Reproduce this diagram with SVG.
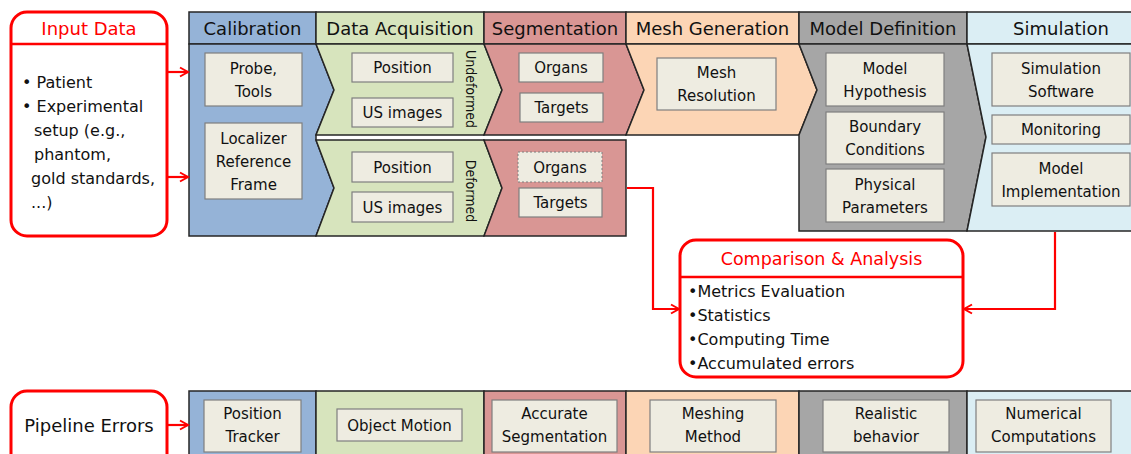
<svg xmlns="http://www.w3.org/2000/svg" width="1131" height="454" viewBox="0 0 1131 454">
<defs>
<marker id="arr" markerWidth="12" markerHeight="12" refX="10" refY="6" orient="auto" markerUnits="userSpaceOnUse"><path d="M2,1.5 L10,6 L2,10.5" fill="none" stroke="#ff0000" stroke-width="2"/></marker>
<style>
text{font-family:"DejaVu Sans",sans-serif;fill:#111}
.h{font-size:18px;text-anchor:middle}
.b{font-size:15px;text-anchor:middle}
.v{font-family:"DejaVu Sans Condensed","DejaVu Sans",sans-serif;font-size:14px;text-anchor:middle}
.st{stroke:#262626;stroke-width:1.5}
.blue{fill:#95b3d7}.green{fill:#d7e4bd}.red{fill:#d99694}.peach{fill:#fcd5b5}.gray{fill:#a6a6a6}.lblue{fill:#dbeef4}
.box{fill:#eeece1;stroke:#7f7f7f;stroke-width:1.2}
.dash{fill:#eeece1;stroke:#7f7f7f;stroke-width:1;stroke-dasharray:2 2}
.rb{fill:#fff;stroke:#ff0000;stroke-width:3}
.rl{stroke:#ff0000;stroke-width:2.5}
.rt{fill:#ff0000;font-size:18px;text-anchor:middle}
.l{font-size:16px}
.con{fill:none;stroke:#ff0000;stroke-width:2.2}
</style>
</defs>
<rect width="1131" height="454" fill="#fff"/>

<g id="input-data">
<rect class="rb" x="11" y="12" width="156" height="224" rx="16"/>
<line class="rl" x1="11" y1="44" x2="167" y2="44"/>
<text class="rt" x="89" y="35">Input Data</text>
<text class="l" x="22" y="88">• Patient</text>
<text class="l" x="22" y="112">• Experimental</text>
<text class="l" x="34" y="136">setup (e.g.,</text>
<text class="l" x="34" y="160">phantom,</text>
<text class="l" x="31" y="184">gold standards,</text>
<text class="l" x="31" y="208">...)</text>
</g>

<g id="calibration">
<rect class="blue st" x="189" y="12" width="127" height="32"/>
<text class="h" x="252.5" y="35">Calibration</text>
<polygon class="blue st" points="189,44 316,44 334,90 316,135 316,140 334,188 316,236 189,236"/>
<rect class="box" x="205" y="53" width="97" height="53"/>
<text class="b" x="253.5" y="74">Probe,</text>
<text class="b" x="253.5" y="97">Tools</text>
<rect class="box" x="205" y="123" width="97" height="76"/>
<text class="b" x="253.5" y="143.5">Localizer</text>
<text class="b" x="253.5" y="166.5">Reference</text>
<text class="b" x="253.5" y="189.5">Frame</text>
</g>

<g id="data-acquisition">
<rect class="green st" x="316" y="12" width="168" height="32"/>
<text class="h" x="400" y="35">Data Acquisition</text>
<polygon class="green st" points="316,44 484,44 502,90 484,135 316,135 334,90"/>
<polygon class="green st" points="316,140 484,140 502,188 484,236 316,236 334,188"/>
<rect class="box" x="352" y="53" width="101" height="29"/>
<text class="b" x="402.5" y="73">Position</text>
<rect class="box" x="352" y="98" width="101" height="29"/>
<text class="b" x="402.5" y="118">US images</text>
<text class="v" transform="translate(471,89) rotate(90)" y="5">Undeformed</text>
<rect class="box" x="352" y="152" width="101" height="30"/>
<text class="b" x="402.5" y="172.5">Position</text>
<rect class="box" x="352" y="192" width="101" height="30"/>
<text class="b" x="402.5" y="212.5">US images</text>
<text class="v" transform="translate(471,191) rotate(90)" y="5">Deformed</text>
</g>

<g id="segmentation">
<rect class="red st" x="484" y="12" width="142" height="32"/>
<text class="h" x="555" y="35">Segmentation</text>
<polygon class="red st" points="484,44 626,44 644,90 626,135 484,135 502,90"/>
<polygon class="red st" points="484,140 626,140 626,236 484,236 502,188"/>
<rect class="box" x="519" y="53" width="84" height="29"/>
<text class="b" x="561" y="73">Organs</text>
<rect class="box" x="520" y="93" width="83" height="29"/>
<text class="b" x="561.5" y="113">Targets</text>
<rect class="dash" x="518" y="152" width="84" height="30"/>
<text class="b" x="560" y="172.5">Organs</text>
<rect class="box" x="519" y="188" width="83" height="29"/>
<text class="b" x="560.5" y="208">Targets</text>
</g>

<g id="mesh-generation">
<rect class="peach st" x="626" y="12" width="173" height="32"/>
<text class="h" x="712.5" y="35">Mesh Generation</text>
<polygon class="peach st" points="626,44 799,44 817,90 799,135 626,135 644,90"/>
<rect class="box" x="657" y="58" width="119" height="52"/>
<text class="b" x="716.5" y="77.5">Mesh</text>
<text class="b" x="716.5" y="100.5">Resolution</text>
</g>

<g id="model-definition">
<rect class="gray st" x="799" y="12" width="168" height="32"/>
<text class="h" x="883" y="35">Model Definition</text>
<polygon class="gray st" points="799,44 967,44 986,137 967,231 799,231 799,135 817,90"/>
<rect class="box" x="826" y="53" width="118" height="53"/>
<text class="b" x="885" y="74">Model</text>
<text class="b" x="885" y="97">Hypothesis</text>
<rect class="box" x="826" y="112" width="118" height="52"/>
<text class="b" x="885" y="132">Boundary</text>
<text class="b" x="885" y="155">Conditions</text>
<rect class="box" x="826" y="169" width="118" height="53"/>
<text class="b" x="885" y="189.5">Physical</text>
<text class="b" x="885" y="212.5">Parameters</text>
</g>

<g id="simulation">
<rect class="lblue st" x="967" y="12" width="170" height="32"/>
<text class="h" x="1061" y="35">Simulation</text>
<polygon class="lblue st" points="967,44 1137,44 1137,231 967,231 986,137"/>
<rect class="box" x="992" y="53" width="138" height="53"/>
<text class="b" x="1061" y="74">Simulation</text>
<text class="b" x="1061" y="97">Software</text>
<rect class="box" x="992" y="115" width="138" height="29"/>
<text class="b" x="1061" y="135">Monitoring</text>
<rect class="box" x="992" y="153" width="138" height="53"/>
<text class="b" x="1061" y="174">Model</text>
<text class="b" x="1061" y="197">Implementation</text>
</g>

<g id="comparison-analysis">
<rect class="rb" x="680" y="240" width="283" height="137" rx="16"/>
<line class="rl" x1="680" y1="277" x2="963" y2="277"/>
<text class="rt" style="font-size:17.5px" x="821.5" y="265">Comparison &amp; Analysis</text>
<text class="l" x="688" y="297">•Metrics Evaluation</text>
<text class="l" x="688" y="321">•Statistics</text>
<text class="l" x="688" y="345">•Computing Time</text>
<text class="l" x="688" y="369">•Accumulated errors</text>
</g>

<g id="pipeline-errors">
<rect class="rb" x="11" y="391" width="156" height="90" rx="16"/>
<text x="89" y="432" style="font-size:18px;text-anchor:middle">Pipeline Errors</text>
</g>

<g id="error-row">
<rect class="blue st" x="189" y="391" width="127" height="80"/>
<rect class="green st" x="316" y="391" width="168" height="80"/>
<rect class="red st" x="484" y="391" width="142" height="80"/>
<rect class="peach st" x="626" y="391" width="173" height="80"/>
<rect class="gray st" x="799" y="391" width="168" height="80"/>
<rect class="lblue st" x="967" y="391" width="170" height="80"/>
<rect class="box" x="204" y="400" width="97" height="52"/>
<text class="b" x="252.5" y="419">Position</text>
<text class="b" x="252.5" y="442">Tracker</text>
<rect class="box" x="337" y="409" width="125" height="32"/>
<text class="b" x="399.5" y="430.5">Object Motion</text>
<rect class="box" x="492" y="400" width="125" height="52"/>
<text class="b" x="554.5" y="419">Accurate</text>
<text class="b" x="554.5" y="442">Segmentation</text>
<rect class="box" x="650" y="400" width="126" height="52"/>
<text class="b" x="713" y="419">Meshing</text>
<text class="b" x="713" y="442">Method</text>
<rect class="box" x="823" y="400" width="126" height="52"/>
<text class="b" x="886" y="419">Realistic</text>
<text class="b" x="886" y="442">behavior</text>
<rect class="box" x="976" y="400" width="135" height="52"/>
<text class="b" x="1043.5" y="419">Numerical</text>
<text class="b" x="1043.5" y="442">Computations</text>
</g>

<g id="connectors">
<path class="con" d="M167,72 H188" marker-end="url(#arr)"/>
<path class="con" d="M167,177 H188" marker-end="url(#arr)"/>
<path class="con" d="M167,425 H188" marker-end="url(#arr)"/>
<path class="con" d="M627,188 H653 V309 H679" marker-end="url(#arr)"/>
<path class="con" d="M1055,232 V309 H964" marker-end="url(#arr)"/>
</g>
</svg>
